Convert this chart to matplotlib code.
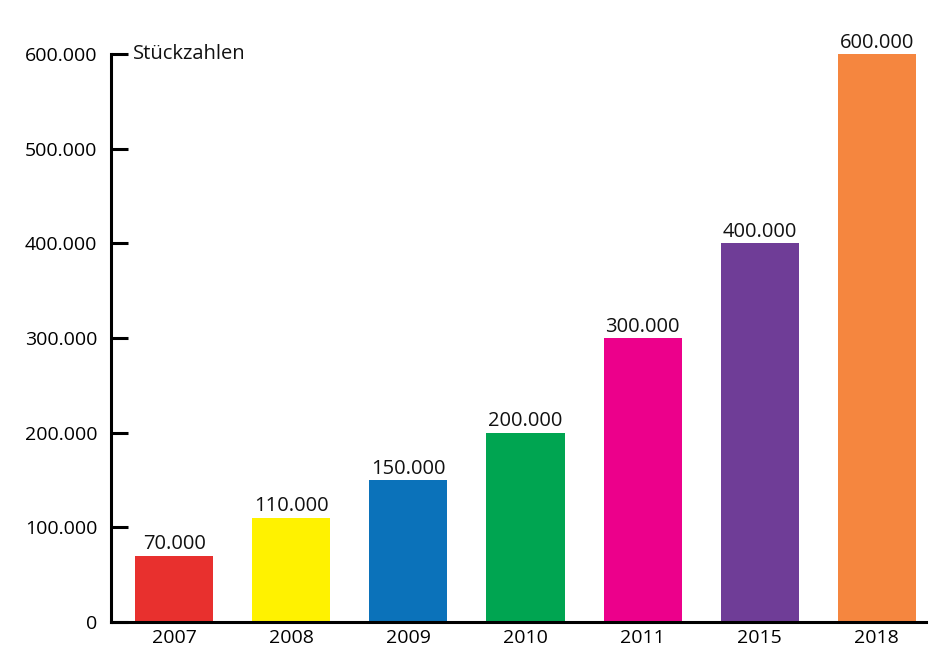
import matplotlib
matplotlib.use("Agg")
import matplotlib.pyplot as plt
from matplotlib.ticker import FuncFormatter

years = ["2007", "2008", "2009", "2010", "2011", "2015", "2018"]
units = [70000, 110000, 150000, 200000, 300000, 400000, 600000]
colors = ["#e8302e", "#fff200", "#0b72ba", "#00a551", "#ec008b", "#6f3d97", "#f5863f"]
y_ticks = [0, 100000, 200000, 300000, 400000, 500000, 600000]

plt.rcParams["font.family"] = ["Open Sans", "DejaVu Sans"]


def de_format(v):
    return f"{int(v):,}".replace(",", ".")


fig = plt.figure(figsize=(9.31, 6.67), dpi=100)
ax = fig.add_axes([0.1192, 0.0675, 0.8754, 0.8515])

x = list(range(len(years)))
ax.bar(x, units, width=0.667, color=colors, zorder=2)

for xi, v in zip(x, units):
    ax.text(xi, v + 1500, de_format(v), ha="center", va="bottom",
            fontsize=14.5, color="#111111", clip_on=False)

ax.set_xlim(-0.54, 6.42)
ax.set_ylim(0, 600000)
ax.set_xticks(x)
ax.set_xticklabels(years)
ax.set_yticks(y_ticks)
ax.yaxis.set_major_formatter(FuncFormatter(lambda v, p: de_format(v)))

for side in ("top", "right"):
    ax.spines[side].set_visible(False)
for side in ("left", "bottom"):
    ax.spines[side].set_linewidth(2.2)
    ax.spines[side].set_color("black")

ax.tick_params(axis="y", direction="in", length=12, width=2.2, pad=10,
               labelsize=14)
ax.tick_params(axis="x", length=0, pad=5, labelsize=14)

ax.text(0.027, 600000, "Stückzahlen", transform=ax.get_yaxis_transform(),
        ha="left", va="center", fontsize=14.5, color="#111111")

fig.savefig("out.png", dpi=100, facecolor="white")
